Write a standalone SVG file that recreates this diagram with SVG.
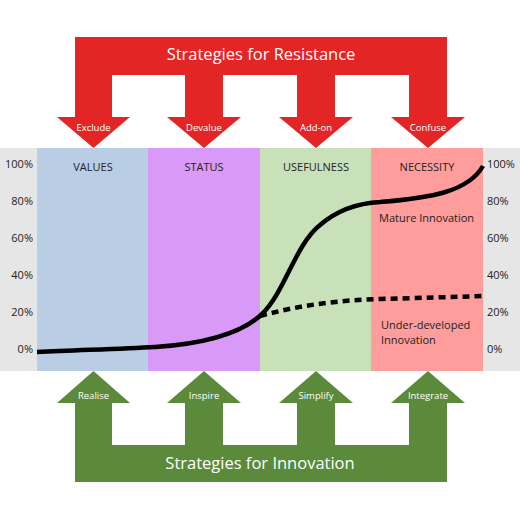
<svg xmlns="http://www.w3.org/2000/svg" width="520" height="520" viewBox="0 0 520 520">
<style>
text{font-family:"Open Sans","Noto Sans","Liberation Sans",sans-serif}
.ax{font-size:11px;fill:#222}
.hd{font-size:11px;fill:#222;text-anchor:middle}
.al{font-size:9.5px;fill:#fff;text-anchor:middle}
.tt{font-size:16.5px;fill:#fff;text-anchor:middle}
.nt{font-size:11px;fill:#222}
</style>
<rect width="520" height="520" fill="#fff"/>
<g id="chart">
<rect x="0" y="148" width="520" height="223" fill="#e6e6e6"/>
<rect x="37" y="148" width="111" height="223" fill="#b9cde5"/>
<rect x="148" y="148" width="112" height="223" fill="#d999f7"/>
<rect x="260" y="148" width="111" height="223" fill="#c8e1b9"/>
<rect x="371" y="148" width="112" height="223" fill="#ff9c9c"/>
<g class="ax" text-anchor="end">
<text x="33" y="168">100%</text><text x="33" y="205">80%</text><text x="33" y="242">60%</text><text x="33" y="279">40%</text><text x="33" y="316">20%</text><text x="33" y="353">0%</text>
</g>
<g class="ax">
<text x="487" y="168">100%</text><text x="487" y="205">80%</text><text x="487" y="242">60%</text><text x="487" y="279">40%</text><text x="487" y="316">20%</text><text x="487" y="353">0%</text>
</g>
<text class="hd" x="93" y="171">VALUES</text>
<text class="hd" x="204" y="171">STATUS</text>
<text class="hd" x="316" y="171">USEFULNESS</text>
<text class="hd" x="427" y="171">NECESSITY</text>
<text class="nt" x="379" y="222">Mature Innovation</text>
<text class="nt" x="381" y="329">Under-developed</text>
<text class="nt" x="381" y="344">Innovation</text>
</g>
<g id="connectors" fill="none" stroke="#000">
<path d="M37,352 C80,350 120,349 155,347 C200,344 240,335 262,314 C285,292 295,245 320,225 C340,208 360,203 380,202 C430,198 468,192 483,166" stroke-width="4.5"/>
<path d="M260,316 C300,305 340,300 380,299 C420,298 450,297 483,296" stroke-width="4.5" stroke-dasharray="7,5"/>
</g>
<g id="resistance">
<path d="M75,37 H447 V117 H465 L428,148 L391,117 H409 V75 H335 V117 H353 L316,148 L279,117 H297 V75 H223 V117 H241 L204,148 L167,117 H185 V75 H112 V117 H130 L93.5,148 L57,117 H75 Z" fill="#e32526"/>
<text class="tt" x="261" y="60">Strategies for Resistance</text>
<text class="al" x="93.5" y="131">Exclude</text>
<text class="al" x="204" y="131">Devalue</text>
<text class="al" x="316" y="131">Add-on</text>
<text class="al" x="428" y="131">Confuse</text>
</g>
<g id="innovation">
<path d="M75,482 H447 V403 H465 L428,371 L391,403 H409 V445 H335 V403 H353 L316,371 L279,403 H297 V445 H223 V403 H241 L204,371 L167,403 H185 V445 H112 V403 H130 L93.5,371 L57,403 H75 Z" fill="#5a8a3a"/>
<text class="tt" x="260" y="469">Strategies for Innovation</text>
<text class="al" x="93.5" y="399">Realise</text>
<text class="al" x="204" y="399">Inspire</text>
<text class="al" x="316" y="399">Simplify</text>
<text class="al" x="428" y="399">Integrate</text>
</g>
</svg>
